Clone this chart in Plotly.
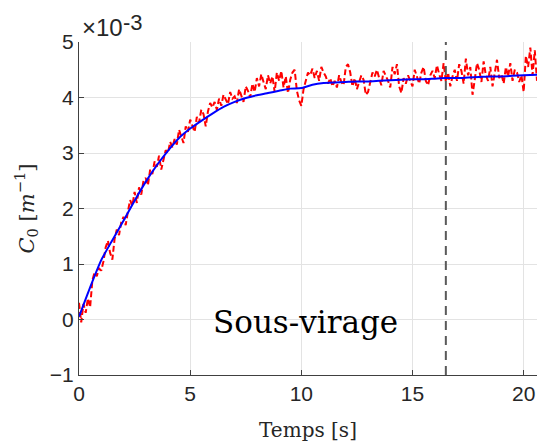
import plotly.graph_objects as go

# Time axis for the noisy measurement (0.1 s step, 0 .. 20.6 s)
t_red = [round(i * 0.1, 1) for i in range(207)]
c0_red = [
    0.30, -0.05, 0.28, 0.12, 0.38, 0.22, 0.70, 0.85, 0.78, 0.92,
    0.88, 1.05, 1.30, 1.42, 1.20, 1.08, 1.45, 1.62, 1.52, 1.75,
    1.85, 1.70, 1.95, 2.15, 2.05, 2.30, 2.10, 2.38, 2.25, 2.50,
    2.55, 2.42, 2.70, 2.62, 2.85, 2.75, 2.95, 2.70, 2.88, 3.05,
    3.00, 3.20, 3.10, 3.25, 3.15, 3.42, 3.30, 3.18, 3.48, 3.38,
    3.60, 3.50, 3.38, 3.65, 3.55, 3.78, 3.70, 3.48, 3.75, 3.90,
    3.82, 3.92, 3.78, 3.98, 3.85, 4.05, 3.95, 3.88, 4.10, 3.98,
    4.02, 3.90, 4.15, 4.05, 3.92, 4.20, 4.12, 4.00, 4.25, 4.10,
    4.35, 4.20, 4.42, 4.28, 4.15, 4.40, 4.25, 4.38, 4.10, 4.45,
    4.30, 4.48, 4.18, 4.38, 4.08, 4.32, 4.45, 4.50, 4.12, 3.95,
    3.85, 4.15, 4.30, 4.45, 4.40, 4.52, 4.35, 4.48, 4.30, 4.55,
    4.45, 4.38, 4.25, 4.35, 4.20, 4.30, 4.18, 4.40, 4.28, 4.22,
    4.55, 4.60, 4.45, 4.20, 4.35, 4.15, 4.28, 4.40, 4.32, 4.05,
    4.10, 4.30, 4.45, 4.38, 4.50, 4.35, 4.22, 4.48, 4.40, 4.30,
    4.18, 4.55, 4.42, 4.60, 4.20, 4.08, 4.35, 4.25, 4.40, 4.30,
    4.20, 4.50, 4.38, 4.25, 4.45, 4.55, 4.30, 4.22, 4.40, 4.48,
    4.35, 4.58, 4.42, 4.30, 4.62, 4.28, 4.45, 4.20, 4.38, 4.50,
    4.30, 4.60, 4.48, 4.25, 4.70, 4.40, 4.55, 4.05, 4.32, 4.62,
    4.50, 4.28, 4.65, 4.40, 4.30, 4.55, 4.20, 4.48, 4.68, 4.35,
    4.42, 4.25, 4.55, 4.38, 4.62, 4.30, 4.50, 4.45, 4.28, 4.40,
    4.10, 4.75, 4.55, 4.90, 4.40, 4.85, 4.30,
]

# Smoothed estimate
t_blue = [0.0, 0.5, 1.0, 1.5, 2.0, 2.5, 3.0, 3.5, 4.0, 4.5, 5.0, 5.5, 6.0, 6.5,
          7.0, 7.5, 8.0, 8.5, 9.0, 9.5, 10.0, 10.5, 11.0, 11.5, 12.0, 12.5,
          13.0, 13.5, 14.0, 14.5, 15.0, 15.5, 16.0, 16.5, 17.0, 17.5, 18.0,
          18.5, 19.0, 19.5, 20.0, 20.6]
c0_blue = [0.05, 0.58, 1.07, 1.43, 1.78, 2.14, 2.48, 2.78, 3.04, 3.27, 3.44,
           3.58, 3.71, 3.83, 3.92, 3.99, 4.04, 4.08, 4.12, 4.16, 4.17, 4.23,
           4.26, 4.27, 4.28, 4.29, 4.29, 4.30, 4.31, 4.32, 4.33, 4.33, 4.34,
           4.35, 4.35, 4.36, 4.37, 4.38, 4.38, 4.39, 4.40, 4.41]

t_switch = 16.5
x_range = [0, 20.6]
y_range = [-1, 5]
x_ticks = [0, 5, 10, 15, 20]
y_ticks = [-1, 0, 1, 2, 3, 4, 5]

fig = go.Figure()
fig.add_trace(go.Scatter(x=t_red, y=c0_red, mode="lines",
                         line=dict(color="#ff0000", width=2, dash="6px,3px"),
                         showlegend=False))
fig.add_trace(go.Scatter(x=t_blue, y=c0_blue, mode="lines",
                         line=dict(color="#0000ff", width=2, shape="spline", smoothing=0.5),
                         showlegend=False))
fig.add_trace(go.Scatter(x=[t_switch, t_switch], y=y_range, mode="lines",
                         line=dict(color="#5a5a5a", width=2, dash="9px,6px"),
                         showlegend=False))

sans = "Liberation Sans, Arial, sans-serif"
tickfont = dict(family=sans, size=21, color="#262626")
serif = "DejaVu Serif, Liberation Serif, serif"

fig.update_layout(
    width=540, height=445,
    margin=dict(l=79, r=3, t=42, b=70),
    paper_bgcolor="white", plot_bgcolor="white",
    xaxis=dict(range=x_range, tickvals=x_ticks, showgrid=True,
               gridcolor="#e3e3e3", gridwidth=1, zeroline=False,
               showline=True, linecolor="#404040", linewidth=1,
               ticks="inside", ticklen=5, tickcolor="#404040",
               tickfont=tickfont,
               title=dict(text="Temps [s]", font=dict(family=serif, size=20, color="#262626"),
                          standoff=18)),
    yaxis=dict(range=y_range, tickvals=y_ticks, showgrid=True,
               gridcolor="#e3e3e3", gridwidth=1, zeroline=False,
               showline=True, linecolor="#404040", linewidth=1,
               ticks="inside", ticklen=5, tickcolor="#404040",
               tickfont=tickfont,
               title=dict(text="<i>C</i><sub>0</sub> [<i>m</i><sup>−1</sup>]",
                          font=dict(family=serif, size=21, color="#262626"),
                          standoff=9)),
    annotations=[
        dict(x=0, y=1.045, xref="paper", yref="paper", xanchor="left", yanchor="middle",
             text="×10", showarrow=False, xshift=1,
             font=dict(family=sans, size=24, color="#262626")),
        dict(x=0, y=1.058, xref="paper", yref="paper", xanchor="left", yanchor="middle",
             text="-3", showarrow=False, xshift=42,
             font=dict(family=sans, size=22, color="#262626")),
        dict(x=10.2, y=-0.05, xref="x", yref="y", text="Sous-virage", showarrow=False,
             font=dict(family=serif, size=31, color="black")),
    ],
)

fig.write_html("out.html")
